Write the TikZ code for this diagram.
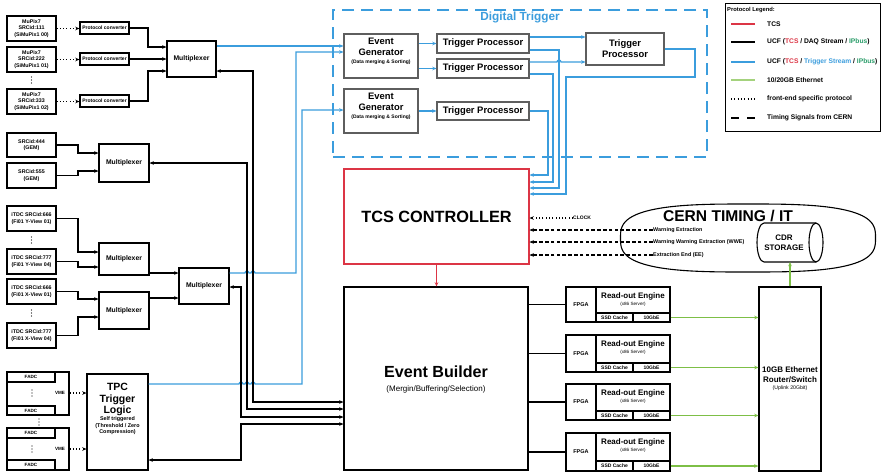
\documentclass[tikz,border=0pt]{standalone}
\usepackage{fontspec}
\setmainfont{Liberation Sans}
\usetikzlibrary{arrows.meta,shapes.geometric}
\definecolor{tcsred}{HTML}{DC3545}
\definecolor{trigblue}{HTML}{3B9DDD}
\definecolor{ethgreen}{HTML}{7DBF46}
\definecolor{ipgreen}{HTML}{2A9D6A}
\definecolor{dtgray}{HTML}{5E5E5E}
% font size helper
\newcommand{\fsz}[2]{\fontsize{#1}{#2}\selectfont}
% box from its corners: name, x1, y1, x2, y2, style, text
\newcommand{\blk}[7]{\node[#6, minimum width={(#4)-(#2)}, minimum height={(#5)-(#3)}] (#1) at ({((#2)+(#4))/2},{((#3)+(#5))/2}) {#7};}
% three stacked dots: name, x, y
\newcommand{\vdts}[3]{\coordinate (#1) at (#2,#3);
  \fill ({#2},{#3-3}) circle[radius=0.65pt] ({#2},{#3}) circle[radius=0.65pt] ({#2},{#3+3}) circle[radius=0.65pt];}
\tikzset{
  >={Stealth[length=4.2pt,width=3.5pt]},
  box/.style={draw, line width=1.1pt, fill=white, inner sep=0pt, align=center},
  dtbox/.style={box, draw=dtgray},
  lbl/.style={inner sep=0pt, align=center},
  srcbox/.style={box, font=\fsz{5.3}{6.6}\bfseries},
  muxbox/.style={box, font=\fsz{6.8}{8}\bfseries},
  wire/.style={line width=1.2pt},
  arr/.style={wire, ->},
  bidi/.style={wire, <->},
  barr/.style={wire, ->, trigblue},
  garr/.style={wire, ->, ethgreen},
  dotarr/.style={wire, ->, dash pattern=on 1pt off 2.3pt},
  tdash/.style={wire, ->, dash pattern=on 3.6pt off 2.2pt},
}
\begin{document}
\begin{tikzpicture}[x=1pt, y=-1pt]
\useasboundingbox (0,0) rectangle (883,472);
\fill[white] (0,0) rectangle (883,472);

% ---------------- MuPix front-ends
\blk{mpa}{7}{16}{56}{41}{srcbox}{MuPix7\\SRCid:111\\(SiMuPix1 00)}
\blk{mpb}{7}{47}{56}{72}{srcbox}{MuPix7\\SRCid:222\\(SiMuPix1 01)}
\vdts{mpdots}{31.5}{80}
\blk{mpc}{7}{89}{56}{114}{srcbox}{MuPix7\\SRCid:333\\(SiMuPix1 02)}
\blk{pca}{80}{22}{129}{34}{box,font=\fsz{5}{6}\bfseries}{Protocol converter}
\blk{pcb}{80}{53}{129}{65}{box,font=\fsz{5}{6}\bfseries}{Protocol converter}
\blk{pcc}{80}{95}{129}{107}{box,font=\fsz{5}{6}\bfseries}{Protocol converter}
\blk{muxa}{167}{41}{216}{77}{muxbox}{Multiplexer}
\draw[dotarr] (mpa.east) -- (pca.west |- mpa.east);
\draw[dotarr] (mpb.east) -- (pcb.west |- mpb.east);
\draw[dotarr] (mpc.east) -- (pcc.west |- mpc.east);
\draw[arr] (pca.east) -| (148,47) -- (muxa.west |- 0,47);
\draw[arr] (pcb.east) -- (muxa.west |- pcb.east);
\draw[arr] (pcc.east) -| (148,71) -- (muxa.west |- 0,71);

% ---------------- GEM
\blk{gema}{7}{133}{56}{157}{srcbox}{SRCid:444\\(GEM)}
\blk{gemb}{7}{163}{56}{188}{srcbox}{SRCid:555\\(GEM)}
\blk{muxg}{99}{144}{149}{182}{muxbox}{Multiplexer}
\draw[arr] (gema.east) -| (78,153) -- (muxg.west |- 0,153);
\draw[arr] (gemb.east) -| (78,171) -- (muxg.west |- 0,171);

% ---------------- iTDC fibre planes
\blk{tya}{7}{206}{56}{231}{srcbox}{iTDC SRCid:666\\(Fi01 Y-View 01)}
\vdts{tydots}{31.5}{240}
\blk{tyb}{7}{249}{56}{274}{srcbox}{iTDC SRCid:777\\(Fi01 Y-View 04)}
\blk{txa}{7}{279}{56}{304}{srcbox}{iTDC SRCid:666\\(Fi01 X-View 01)}
\vdts{txdots}{31.5}{313}
\blk{txb}{7}{323}{56}{348}{srcbox}{iTDC SRCid:777\\(Fi01 X-View 04)}
\blk{muxy}{99}{243}{149}{275}{muxbox}{Multiplexer}
\blk{muxx}{99}{292}{149}{329}{muxbox}{Multiplexer}
\blk{muxc}{179}{268}{229}{304}{muxbox}{Multiplexer}
\draw[arr] (tya.east) -| (78,252) -- (muxy.west |- 0,252);
\draw[arr] (tyb.east) -| (78,267) -- (muxy.west |- 0,267);
\draw[arr] (txa.east) -| (78,299) -- (muxx.west |- 0,299);
\draw[arr] (txb.east) -| (78,317) -- (muxx.west |- 0,317);
\draw[arr] (muxy.east |- 0,273) -- (muxc.west |- 0,273);
\draw[arr] (muxx.east |- 0,298) -- (muxc.west |- 0,298);

% ---------------- FADC crates and TPC trigger logic
\blk{fga}{7}{372}{69}{415}{box}{}
\blk{fa1}{7}{372}{55}{382}{box,font=\fsz{4.6}{5}\bfseries}{FADC}
\blk{fa2}{7}{406}{55}{415}{box,font=\fsz{4.6}{5}\bfseries}{FADC}
\vdts{fdotsa}{32}{393}
\node[lbl, font=\fsz{4.6}{5}\bfseries] (vmea) at (60,393) {VME};
\vdts{fdotsm}{39}{422}
\blk{fgb}{7}{428}{69}{470}{box}{}
\blk{fa3}{7}{428}{55}{438}{box,font=\fsz{4.6}{5}\bfseries}{FADC}
\blk{fa4}{7}{460}{55}{470}{box,font=\fsz{4.6}{5}\bfseries}{FADC}
\vdts{fdotsb}{32}{449}
\node[lbl, font=\fsz{4.6}{5}\bfseries] (vmeb) at (60,449) {VME};
\blk{tpc}{87}{374}{148}{470}{box}{}
\node[lbl, anchor=north, font=\fsz{10.5}{11.5}\bfseries] (tpcA) at (117.5,383) {TPC\\Trigger\\Logic};
\node[lbl, font=\fsz{5.4}{6.5}\bfseries] (tpcB) at (117.5,426) {Self triggered\\(Threshold / Zero\\Compression)};
\draw[dotarr] (fga.east |- vmea.east) -- (tpc.west |- vmea.east);
\draw[dotarr] (fgb.east |- vmeb.east) -- (tpc.west |- vmeb.east);

% ---------------- Digital trigger
\blk{dtz}{333}{10}{707}{157}{draw=trigblue, line width=1.1pt, dash pattern=on 12pt off 7pt, inner sep=0pt}{}
\node[lbl, font=\fsz{11.8}{13}\bfseries, text=trigblue] (dtzt) at (520,17) {Digital Trigger};
\blk{ega}{344}{34}{418}{78}{dtbox}{}
\node[lbl, font=\fsz{9.4}{11}\bfseries] (egaT) at (381,46.5) {Event\\Generator};
\node[lbl, font=\fsz{5}{6}\bfseries] (egaS) at (381,62) {(Data merging \& Sorting)};
\blk{egb}{344}{89}{418}{133}{dtbox}{}
\node[lbl, font=\fsz{9.4}{11}\bfseries] (egbT) at (381,101.5) {Event\\Generator};
\node[lbl, font=\fsz{5}{6}\bfseries] (egbS) at (381,117) {(Data merging \& Sorting)};
\blk{tpa}{437}{34}{529}{53}{dtbox,font=\fsz{9.4}{11}\bfseries}{Trigger Processor}
\blk{tpb}{437}{59}{529}{78}{dtbox,font=\fsz{9.4}{11}\bfseries}{Trigger Processor}
\blk{tpx}{437}{102}{529}{120}{dtbox,font=\fsz{9.4}{11}\bfseries}{Trigger Processor}
\blk{tpz}{586}{33}{664}{65}{dtbox,font=\fsz{9.4}{11}\bfseries}{Trigger\\Processor}

% ---------------- TCS controller and event builder
\blk{tcs}{344}{169}{529}{264}{box, draw=tcsred, font=\fsz{16.3}{18}\bfseries}{TCS CONTROLLER}
\blk{eb}{344}{287}{528}{470}{box}{}
\node[lbl, font=\fsz{16.1}{18}\bfseries] (ebT) at (436,372) {Event Builder};
\node[lbl, font=\fsz{8}{9.5}] (ebS) at (436,389) {(Mergin/Buffering/Selection)};
\draw[wire, ->, tcsred] (tcs.south) -- (eb.north -| tcs.south);

% trigger streams
\draw[barr] (muxa.east |- 0,46) -- (ega.west |- 0,46);
\draw[barr] (muxc.east |- 0,273) -- (245,273) arc[start angle=180, end angle=0, radius=2pt]
  -- (251,273) arc[start angle=180, end angle=0, radius=2pt] -- (296,273) |- (ega.west |- 0,52);
\draw[barr] (tpc.east |- 0,384) -- (239,384) arc[start angle=180, end angle=0, radius=2pt]
  -- (245,384) arc[start angle=180, end angle=0, radius=2pt]
  -- (251,384) arc[start angle=180, end angle=0, radius=2pt] -- (302,384) |- (egb.west |- 0,110);
\draw[barr] (ega.east |- tpa.west) -- (tpa.west);
\draw[barr] (ega.east |- tpb.west) -- (tpb.west);
\draw[barr] (egb.east |- tpx.west) -- (tpx.west);
\draw[barr] (tpa.east |- 0,37) -- (tpz.west |- 0,37);
\draw[barr] (tpb.east |- 0,62) -- (557,62) arc[start angle=180, end angle=0, radius=2pt] -- (tpz.west |- 0,62);
\draw[barr] (tpa.east |- 0,50) -| (559,188) -- (tcs.east |- 0,188);
\draw[barr] (tpb.east |- 0,74) -| (553,182) -- (tcs.east |- 0,182);
\draw[barr] (tpx.east) -| (548,175) -- (tcs.east |- 0,175);
\draw[barr] (tpz.east |- 0,49) -| (695,77) -| (566,194) -- (tcs.east |- 0,194);

% DAQ streams to the event builder
\draw[bidi] (muxa.east |- 0,71) -| (253,402) -- (eb.west |- 0,402);
\draw[bidi] (muxg.east) -| (247,409) -- (eb.west |- 0,409);
\draw[bidi] (muxc.east |- 0,287) -| (241,417) -- (eb.west |- 0,417);
\draw[bidi] (tpc.east |- 0,460) -| (241,424) -- (eb.west |- 0,424);

% ---------------- Router and read-out engines
\blk{rtr}{759}{287}{821}{471}{box}{}
\node[lbl, font=\fsz{8}{9.8}\bfseries] (rtrT) at (790,375) {10GB Ethernet\\Router/Switch};
\node[lbl, font=\fsz{5.2}{6}] (rtrS) at (790,388.5) {(Uplink 20Gbit)};
\foreach \k/\ytop/\ysp/\ybot in {1/287/313/322, 2/335/363/372, 3/384/411/420, 4/433/461/471} {
  \blk{fp\k}{566}{\ytop}{596}{\ybot}{box,font=\fsz{5.5}{6}\bfseries}{FPGA}
  \blk{re\k}{596}{\ytop}{670}{\ysp}{box}{}
  \node[lbl, font=\fsz{8}{9}\bfseries] (reT\k) at (633,{\ytop+9.5}) {Read-out Engine};
  \node[lbl, font=\fsz{4.6}{5}] (reS\k) at (633,{\ytop+17.5}) {(x86 Server)};
  \blk{ssd\k}{596}{\ysp}{633}{\ybot}{box,font=\fsz{5}{5.5}\bfseries}{SSD Cache}
  \blk{ge\k}{633}{\ysp}{670}{\ybot}{box,font=\fsz{5}{5.5}\bfseries}{10GbE}
  \draw[wire] (eb.east |- fp\k.west) -- (fp\k.west);
  \draw[garr] (ge\k.east) -- (rtr.west |- ge\k.east);
}

% ---------------- CERN timing / IT (flattened oval)
\node[inner sep=0pt, minimum width=255, minimum height=68] (cern) at (748,238) {};
\draw[line width=1.1pt, fill=white]
  plot[domain=1:361, samples=121, smooth]
  ({748+127.5*sign(cos(\x))*pow(abs(cos(\x)),2/3)}, {238+34*sign(sin(\x))*pow(abs(sin(\x)),2/3)}) -- cycle;
\node[lbl, font=\fsz{15.6}{18}\bfseries] (cernT) at (728,215.5) {CERN TIMING / IT};
% CDR storage drum
\draw[line width=1.1pt, fill=white] (816,223) -- (764,223)
  arc[start angle=90, end angle=270, x radius=7pt, y radius=19.5pt] -- (816,262);
\draw[line width=1.1pt, fill=white] (816,242.5) ellipse[x radius=7pt, y radius=19.5pt];
\node[lbl, font=\fsz{8}{9.5}\bfseries] (cdr) at (784,242.5) {CDR\\STORAGE};
\coordinate (cdrbot) at (790,262);
\draw[garr] (rtr.north) -- (cdrbot);
\node[lbl, anchor=west, font=\fsz{5}{6}\bfseries] (clk) at (573,218) {CLOCK};
\draw[dotarr] (clk.west) -- (tcs.east |- clk.west);
\node[lbl, anchor=west, font=\fsz{5.4}{6}\bfseries] (wea) at (653,230) {Warning Extraction};
\node[lbl, anchor=west, font=\fsz{5.4}{6}\bfseries] (web) at (653,242) {Warning Warning Extraction (WWE)};
\node[lbl, anchor=west, font=\fsz{5.4}{6}\bfseries] (wec) at (653,255) {Extraction End (EE)};
\draw[tdash] (wea.west) -- (tcs.east |- wea.west);
\draw[tdash] (web.west) -- (tcs.east |- web.west);
\draw[tdash] (wec.west) -- (tcs.east |- wec.west);

% ---------------- Legend
\blk{leg}{725}{3}{880}{131}{box, line width=0.9pt}{}
\node[lbl, anchor=west, font=\fsz{5.8}{7}\bfseries] (legT) at (727,10) {Protocol Legend:};
\draw[wire, tcsred] (731,24) -- (755,24);
\draw[wire] (731,42) -- (755,42);
\draw[wire, trigblue] (731,62) -- (755,62);
\draw[wire, ethgreen!70] (731,80) -- (755,80);
\draw[wire, dash pattern=on 1pt off 2.3pt] (731,99) -- (755,99);
\draw[wire, dash pattern=on 8pt off 8pt] (731,118) -- (755,118);
\begin{scope}[every node/.style={lbl, anchor=west, font=\fsz{6.7}{8}\bfseries}]
\node (lgA) at (767,24) {TCS};
\node (lgB) at (767,42) {UCF (\textcolor{tcsred}{TCS} / DAQ Stream / \textcolor{ipgreen}{IPbus})};
\node (lgC) at (767,62) {UCF (\textcolor{tcsred}{TCS} / \textcolor{trigblue}{Trigger Stream} / \textcolor{ipgreen}{IPbus})};
\node (lgD) at (767,80) {10/20GB Ethernet};
\node (lgE) at (767,99) {front-end specific protocol};
\node (lgF) at (767,118) {Timing Signals from CERN};
\end{scope}
\end{tikzpicture}
\end{document}
